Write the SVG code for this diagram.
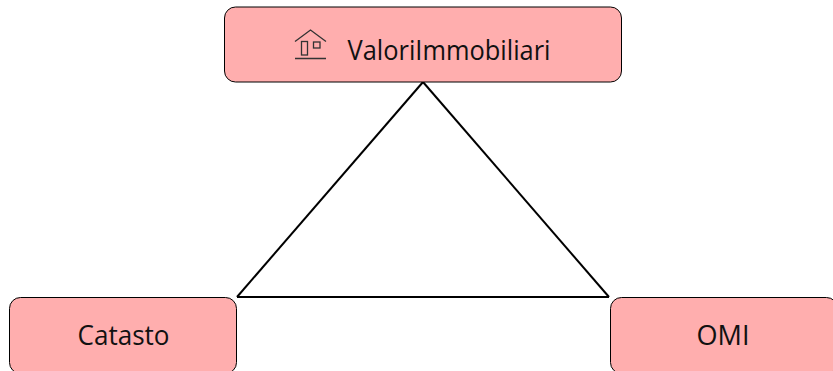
<svg xmlns="http://www.w3.org/2000/svg" width="833" height="371" viewBox="0 0 833 371">
<style>
.box{fill:#ffaeae;stroke:#000;stroke-width:1}
.lbl{font-family:"Open Sans","Noto Sans",sans-serif;font-size:27px;fill:#111;text-anchor:middle}
.edge{fill:none;stroke:#000;stroke-width:2}
.ico{fill:none;stroke:#333;stroke-width:1.3}
</style>
<rect width="833" height="371" fill="#fff"/>
<g id="connectors">
<path class="edge" d="M423 82L237 297"/>
<path class="edge" d="M423 82L609 297"/>
<path class="edge" d="M237 297L609 297"/>
</g>
<g id="valori">
<rect class="box" x="224.500" y="7" width="397" height="75" rx="11"/>
<path class="ico" d="M295 41.500L310.500 30L326 41.500M295 58.500H326"/>
<rect class="ico" x="301.500" y="41.500" width="6" height="13.500"/>
<rect class="ico" x="313.500" y="42" width="6.500" height="6"/>
<text class="lbl" x="449" y="59.500" textLength="203" lengthAdjust="spacingAndGlyphs">ValoriImmobiliari</text>
</g>
<g id="catasto">
<rect class="box" x="9.500" y="297.500" width="227" height="76" rx="11"/>
<text class="lbl" x="123.500" y="345" textLength="92" lengthAdjust="spacingAndGlyphs">Catasto</text>
</g>
<g id="omi">
<rect class="box" x="610.500" y="297.500" width="227" height="76" rx="11"/>
<text class="lbl" x="723" y="345" textLength="53" lengthAdjust="spacingAndGlyphs">OMI</text>
</g>
</svg>
